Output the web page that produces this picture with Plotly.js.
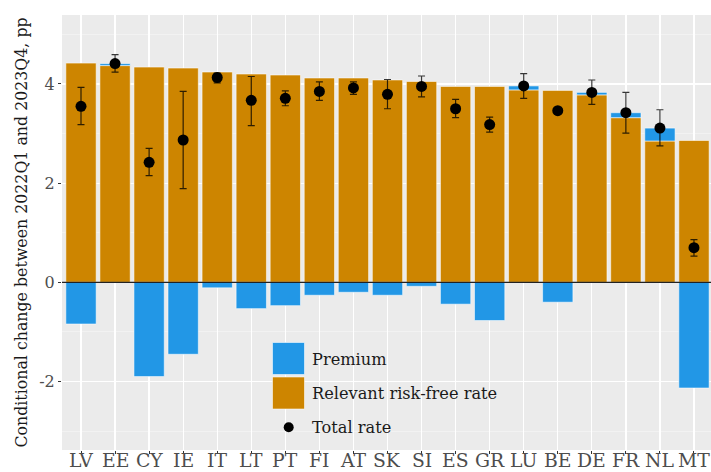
<!DOCTYPE html>
<html>
<head>
<meta charset="utf-8">
<script src="https://cdn.plot.ly/plotly-3.0.1.min.js"></script>
<style>html,body{margin:0;padding:0;background:#fff;}#chart{width:711px;height:472px;}</style>
</head>
<body>
<div id="chart"></div>
<script>
// Data
const countries = ["LV","EE","CY","IE","IT","LT","PT","FI","AT","SK","SI","ES","GR","LU","BE","DE","FR","NL","MT"];
const riskFree = [4.42,4.37,4.34,4.32,4.24,4.20,4.18,4.12,4.12,4.08,4.05,3.95,3.95,3.88,3.87,3.78,3.32,2.85,2.86];
const premium  = [-0.84,0.04,-1.90,-1.45,-0.11,-0.53,-0.47,-0.26,-0.20,-0.26,-0.08,-0.44,-0.77,0.08,-0.40,0.05,0.10,0.26,-2.13];
const totalRate = [3.55,4.41,2.42,2.87,4.13,3.67,3.71,3.85,3.92,3.79,3.95,3.50,3.18,3.96,3.46,3.83,3.42,3.11,0.70];
const totalUpper = [3.93,4.59,2.70,3.85,4.22,4.15,3.86,4.04,4.04,4.09,4.16,3.69,3.33,4.21,3.46,4.08,3.83,3.48,0.86];
const totalLower = [3.18,4.24,2.15,1.89,4.02,3.16,3.56,3.67,3.79,3.50,3.74,3.32,3.03,3.71,3.46,3.59,3.01,2.75,0.53];
const seriesNames = ["Premium","Relevant risk-free rate","Total rate"];
const yTickVals = [-2,0,2,4];
const yTickText = ["-2","0","2","4"];
const colors = {premium:"#2297E6", rf:"#CD8500"};
</script>
<script>
const x = countries;
const errPlus = totalUpper.map((u,i)=>Math.max(0,u-totalRate[i]));
const errMinus = totalLower.map((l,i)=>Math.max(0,totalRate[i]-l));
const barLine = {color:"rgba(255,255,255,0.55)", width:1};
const traces = [
  {type:"bar", x:x, y:riskFree, name:seriesNames[1], marker:{color:colors.rf, line:barLine}, width:0.89, showlegend:false},
  {type:"bar", x:x, y:premium, name:seriesNames[0], marker:{color:colors.premium, line:barLine}, width:0.89, showlegend:false},
  {type:"scatter", mode:"markers", x:x, y:totalRate, name:seriesNames[2],
   marker:{color:"#000", size:11},
   error_y:{type:"data", symmetric:false, array:errPlus, arrayminus:errMinus, color:"rgba(0,0,0,0.78)", thickness:1.2, width:3.5},
   showlegend:false}
];
const font = "DejaVu Serif";
const W = 649, H = 435; // plot area px
function px(xp){return (xp-62)/W;}
function py(yp){return (450-yp)/H;}
const shapes = [
  {type:"line", xref:"paper", yref:"y", x0:0, x1:1, y0:0, y1:0, line:{color:"#222", width:1.2}, layer:"above"},
  {type:"rect", xref:"paper", yref:"paper", x0:px(272.5), x1:px(304.5), y0:py(374.5), y1:py(342.5), fillcolor:colors.premium, line:{color:"rgba(255,255,255,0.55)", width:1}, layer:"above"},
  {type:"rect", xref:"paper", yref:"paper", x0:px(272.5), x1:px(304.5), y0:py(409), y1:py(377), fillcolor:colors.rf, line:{color:"rgba(255,255,255,0.55)", width:1}, layer:"above"},
  {type:"circle", xref:"paper", yref:"paper", xsizemode:"pixel", ysizemode:"pixel", xanchor:px(288.7), yanchor:py(427.3), x0:-5, x1:5, y0:-5, y1:5, fillcolor:"#000", line:{width:0}, layer:"above"}
];
const legendTexts = [[seriesNames[0],359.3],[seriesNames[1],393.3],[seriesNames[2],427.3]];
const annotations = legendTexts.map(t=>({xref:"paper", yref:"paper", x:px(309.5), y:py(t[1]), xanchor:"left", yanchor:"middle", showarrow:false, text:t[0], font:{family:font, size:16.2, color:"#1a1a1a"}}));
// category tick labels, placed at the category positions of the x axis
countries.forEach(c=>annotations.push({xref:"x", yref:"paper", x:c, y:py(471.8), xanchor:"center", yanchor:"bottom", showarrow:false, borderpad:0, text:c, font:{family:font, size:18.8, color:"#4D4D4D"}}));
const layout = {
  width:711, height:472,
  margin:{l:62, r:0, t:15, b:22, pad:0},
  paper_bgcolor:"#fff", plot_bgcolor:"#EBEBEB",
  barmode:"relative", bargap:0,
  showlegend:false,
  font:{family:font},
  xaxis:{type:"category", range:[-0.558,18.5], showgrid:true, gridcolor:"#fff", gridwidth:1.3,
    ticks:"outside", ticklen:3, tickcolor:"#333", tickwidth:1, showticklabels:false,
    zeroline:false, showline:false, fixedrange:true},
  yaxis:{range:[-3.38,5.39], tickvals:yTickVals, ticktext:yTickText,
    showgrid:true, gridcolor:"#fff", gridwidth:1.3,
    minor:{tickvals:[-3,-1,1,3,5], showgrid:true, gridcolor:"#F5F5F5", gridwidth:0.7, ticks:""},
    ticks:"outside", ticklen:3, tickcolor:"#333", tickwidth:1,
    tickfont:{family:font, size:16, color:"#4D4D4D"}, zeroline:false, showline:false,
    title:{text:"Conditional change between 2022Q1 and 2023Q4, pp", font:{family:font, size:15.8, color:"#1a1a1a"}, standoff:7}},
  shapes:shapes, annotations:annotations
};
Plotly.newPlot("chart", traces, layout, {staticPlot:true, displayModeBar:false});
</script>
</body>
</html>
